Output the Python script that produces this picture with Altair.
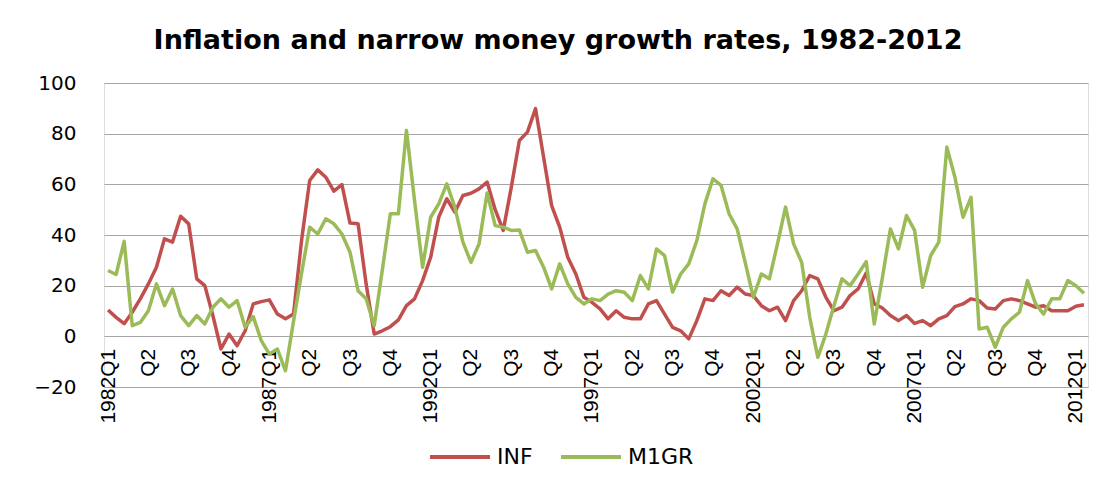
import altair as alt
import pandas as pd

# Quarter categories 1982Q1 .. 2012Q2
years = list(range(1982, 2013))
quarters = [f"{y}Q{q}" for y in years for q in (1, 2, 3, 4)][:122]

inf = [10.4, 7.5, 5.0, 9.5, 14.8, 20.7, 27.3, 38.5, 37.2, 47.4,
       44.4, 22.7, 20.0, 8.2, -5.0, 0.9, -3.7, 2.2, 12.8, 13.7,
       14.4, 8.8, 6.9, 8.8, 38.0, 61.5, 65.7, 62.8, 57.3, 59.9,
       44.7, 44.4, 20.7, 0.9, 2.2, 3.8, 6.5, 12.1, 14.8, 22.0,
       31.2, 47.0, 54.3, 49.0, 55.6, 56.5, 58.2, 60.9, 50.0, 41.8,
       58.9, 77.3, 80.6, 89.9, 70.8, 51.6, 43.1, 31.2, 24.6, 15.4,
       13.4, 10.8, 6.9, 10.1, 7.5, 6.9, 6.9, 12.8, 14.1, 8.8,
       3.5, 2.2, -1.0, 6.2, 14.8, 14.1, 18.0, 16.1, 19.4, 16.7,
       16.1, 12.1, 10.1, 11.5, 6.2, 14.1, 18.0, 24.0, 22.7, 15.4,
       10.1, 11.5, 16.1, 18.7, 25.0, 12.8, 11.2, 8.2, 6.2, 8.2,
       5.1, 6.2, 4.2, 6.9, 8.2, 11.7, 12.8, 14.8, 14.1, 11.2,
       10.8, 14.1, 14.8, 14.1, 12.8, 11.5, 12.1, 10.1, 10.1, 10.1,
       11.9, 12.5]

m1gr = [26.0, 24.4, 37.5, 4.2, 5.5, 10.1, 20.7, 12.1, 18.7, 8.2,
        4.2, 8.2, 4.9, 11.5, 14.8, 11.5, 14.1, 3.6, 7.8, -1.7,
        -7.0, -5.0, -13.6, 6.0, 25.0, 43.1, 40.4, 46.4, 44.4, 40.4,
        33.2, 18.0, 14.8, 4.2, 26.0, 48.4, 48.4, 81.3, 53.6, 27.3,
        47.0, 52.3, 60.2, 51.0, 37.2, 29.2, 36.5, 56.6, 43.7, 43.1,
        41.8, 42.0, 33.2, 33.9, 27.3, 18.7, 28.6, 20.7, 15.4, 12.8,
        14.8, 14.1, 16.7, 18.0, 17.4, 14.1, 24.0, 18.7, 34.5, 31.9,
        17.5, 24.6, 28.6, 37.8, 52.3, 62.2, 59.6, 48.4, 42.4, 29.2,
        15.4, 24.6, 22.7, 36.5, 51.0, 36.5, 29.2, 7.5, -8.3, 0.9,
        12.1, 22.7, 20.0, 24.6, 29.5, 4.9, 23.0, 42.4, 34.5, 47.7,
        41.8, 19.4, 31.9, 37.2, 74.7, 62.8, 47.0, 54.9, 2.9, 3.6,
        -4.3, 3.6, 6.9, 9.5, 22.0, 12.8, 8.8, 14.8, 14.8, 22.0,
        20.0, 17.0]

series_names = ["INF", "M1GR"]
series_colors = ["#C0504D", "#9BBB59"]
tick_values = quarters[::5]
y_ticks = [-20, 0, 20, 40, 60, 80, 100]

rows = []
for s, vals in zip(series_names, [inf, m1gr]):
    for q, v in zip(quarters, vals):
        rows.append({"quarter": q, "series": s, "value": v})
df = pd.DataFrame(rows)

W, H = 984, 304

chart = alt.Chart(df).mark_line(strokeWidth=3.5, strokeJoin="round").encode(
    x=alt.X("quarter:O", sort=quarters,
            scale=alt.Scale(type="point", padding=0.5),
            axis=alt.Axis(values=tick_values, title=None, labelAngle=-90,
                          labelExpr="indexof(datum.value,'Q1')>=0 ? datum.value : slice(datum.value,4)",
                          ticks=False, domain=False, grid=False,
                          offset=-(H * 20 / 120), labelPadding=12,
                          labelFontSize=21, labelFont="Liberation Sans",
                          labelColor="#000000")),
    y=alt.Y("value:Q", scale=alt.Scale(domain=[-20, 100], nice=False),
            axis=alt.Axis(values=y_ticks, title=None, ticks=False, domain=False,
                          gridColor="#A6A6A6", gridWidth=1,
                          labelFontSize=20, labelFont="DejaVu Sans",
                          labelColor="#000000", labelPadding=28)),
    color=alt.Color("series:N", sort=series_names,
                    scale=alt.Scale(domain=series_names, range=series_colors),
                    legend=alt.Legend(title=None, orient="none", direction="horizontal",
                                      legendX=324, legendY=342, padding=0,
                                      symbolType="stroke", symbolSize=3600,
                                      symbolStrokeWidth=4, labelFontSize=22,
                                      labelFont="DejaVu Sans", labelColor="#000000",
                                      columnPadding=20, labelOffset=5)),
    order=alt.Order("series:N")
).properties(
    width=W, height=H,
    title=alt.TitleParams("Inflation and narrow money growth rates, 1982-2012",
                          font="DejaVu Sans", fontSize=27, fontWeight="bold",
                          color="#000000", anchor="middle",
                          dx=-38, offset=18),
    padding={"left": 96, "top": 75, "right": 16, "bottom": 84},
    autosize=alt.AutoSizeParams(type="none")
).configure_view(stroke=None).configure(background="#FFFFFF")

chart.save("out.html", embed_options={"renderer": "svg", "actions": False})
